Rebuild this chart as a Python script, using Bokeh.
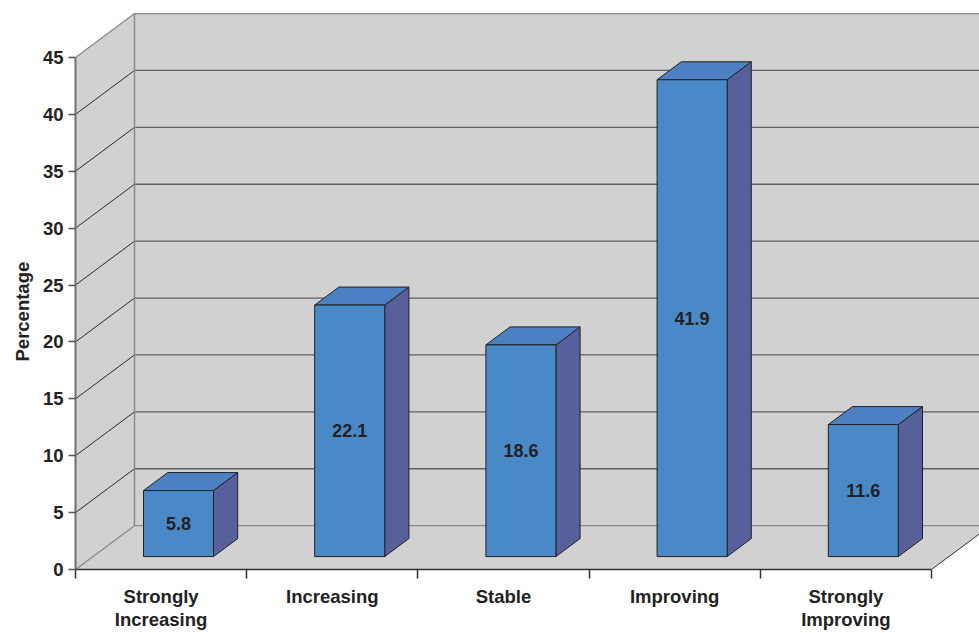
from bokeh.plotting import figure
from bokeh.models import Range1d, FixedTicker, Title
from bokeh.core.properties import value
from bokeh.embed import file_html
from bokeh.resources import INLINE

# --- data -------------------------------------------------------------
categories = ["Strongly\nIncreasing", "Increasing", "Stable", "Improving", "Strongly\nImproving"]
percentages = [5.8, 22.1, 18.6, 41.9, 11.6]
y_ticks = [0, 5, 10, 15, 20, 25, 30, 35, 40, 45]
y_max = 45
y_title = "Percentage"

# --- 3-D box geometry (data units) ------------------------------------
DX = 0.3446            # horizontal shift of the full depth, in category units
DY = 3.853             # vertical shift of the full depth, in percentage units
BAR_W = 0.409          # bar width as a fraction of a category slot
D0, D1 = 0.295, 0.705  # front / back depth of the bars
N = len(categories)

FONT_NAME = "Liberation Sans"
FONT_SIZE = "18.5px"
TEXT = "#222222"
WALL = "#D1D1D1"
EDGE = "#8A8A8A"

p = figure(width=979, height=633, output_backend="svg", toolbar_location=None,
           x_range=Range1d(0, 904 / 171.2), y_range=Range1d(0, 50),
           min_border_left=75, min_border_right=0, min_border_top=0, min_border_bottom=62,
           background_fill_color="white", border_fill_color="white")
p.outline_line_color = None
p.grid.visible = False

# walls and floor
p.patch([DX, DX, N + DX, N + DX], [DY, y_max + DY, y_max + DY, DY],
        fill_color=WALL, line_color=None)
p.patch([0, 0, DX, DX], [0, y_max, y_max + DY, DY], fill_color=WALL, line_color=None)
p.patch([0, N, N + DX, DX], [0, 0, DY, DY], fill_color=WALL, line_color=None)

# gridlines on the back wall and the side wall
inner = [t for t in y_ticks if 0 < t < y_max]
p.segment(x0=[DX] * len(inner), y0=[t + DY for t in inner],
          x1=[N + DX] * len(inner), y1=[t + DY for t in inner],
          line_color="#5E5E5E", line_width=1.3)
p.segment(x0=[0] * len(inner), y0=inner, x1=[DX] * len(inner), y1=[t + DY for t in inner],
          line_color="#2A2A2A", line_width=1)

# wall edges
p.line([0, DX, N + DX], [y_max, y_max + DY, y_max + DY], line_color=EDGE, line_width=1.3)
p.line([DX, DX], [DY, y_max + DY], line_color=EDGE, line_width=1.5)
p.line([0, DX, N + DX], [0, DY, DY], line_color=EDGE, line_width=1.3)
p.line([N, N + DX], [0, DY], line_color="#333333", line_width=1)

# bars: front, top and side faces
front_x, front_y, top_x, top_y, side_x, side_y = [], [], [], [], [], []
lab_x, lab_y, lab_t = [], [], []
for i, v in enumerate(percentages):
    xl = i + 0.5 - BAR_W / 2
    xr = i + 0.5 + BAR_W / 2
    fx0, fy0 = D0 * DX, D0 * DY
    bx0, by0 = D1 * DX, D1 * DY
    front_x.append([xl + fx0, xr + fx0, xr + fx0, xl + fx0])
    front_y.append([fy0, fy0, v + fy0, v + fy0])
    top_x.append([xl + fx0, xr + fx0, xr + bx0, xl + bx0])
    top_y.append([v + fy0, v + fy0, v + by0, v + by0])
    side_x.append([xr + fx0, xr + bx0, xr + bx0, xr + fx0])
    side_y.append([fy0, by0, v + by0, v + fy0])
    lab_x.append(i + 0.5 + fx0)
    lab_y.append(v / 2 + fy0)
    lab_t.append(f"{v:.1f}")

p.patches(side_x, side_y, fill_color="#57609B", line_color="#222222", line_width=1)
p.patches(top_x, top_y, fill_color="#4D80C2", line_color="#222222", line_width=1)
p.patches(front_x, front_y, fill_color="#4A89C8", line_color="#222222", line_width=1)

p.text(x=lab_x, y=lab_y, text=lab_t, text_font=value(FONT_NAME), text_font_style="bold",
       text_font_size="18px", text_color=TEXT, text_align="center", text_baseline="middle")

# y axis
ya = p.yaxis[0]
ya.ticker = FixedTicker(ticks=y_ticks)
ya.bounds = (0, y_max)
ya.axis_line_color = "#707070"
ya.axis_line_width = 2
ya.major_tick_in = 0
ya.major_tick_out = 7
ya.major_tick_line_color = "#555555"
ya.major_tick_line_width = 1.5
ya.minor_tick_line_color = None
ya.major_label_standoff = 5
ya.major_label_text_font = FONT_NAME
ya.major_label_text_font_style = "bold"
ya.major_label_text_font_size = FONT_SIZE
ya.major_label_text_color = TEXT

# axis title: start-aligned at the bottom of the frame, then raised so that it
# sits centred on the 0..45 span of the axis
p.add_layout(Title(text=y_title, align="left", offset=208, standoff=14,
                   text_font=FONT_NAME, text_font_style="bold", text_font_size=FONT_SIZE,
                   text_color=TEXT), "left")

# x axis: labels at slot centres, tick marks at slot boundaries
xa = p.xaxis[0]
xa.ticker = FixedTicker(ticks=[i + 0.5 for i in range(N)], minor_ticks=list(range(N + 1)))
xa.major_label_overrides = {i + 0.5: c for i, c in enumerate(categories)}
xa.bounds = (0, N)
xa.axis_line_color = "#333333"
xa.axis_line_width = 1.5
xa.major_tick_line_color = None
xa.major_tick_in = 0
xa.major_tick_out = 0
xa.minor_tick_in = 0
xa.minor_tick_out = 9
xa.minor_tick_line_color = "#333333"
xa.minor_tick_line_width = 1.5
xa.major_label_standoff = 7
xa.major_label_text_font = FONT_NAME
xa.major_label_text_font_style = "bold"
xa.major_label_text_font_size = FONT_SIZE
xa.major_label_text_color = TEXT
xa.major_label_text_line_height = 1.12

open("out.html", "w").write(file_html(p, INLINE))
